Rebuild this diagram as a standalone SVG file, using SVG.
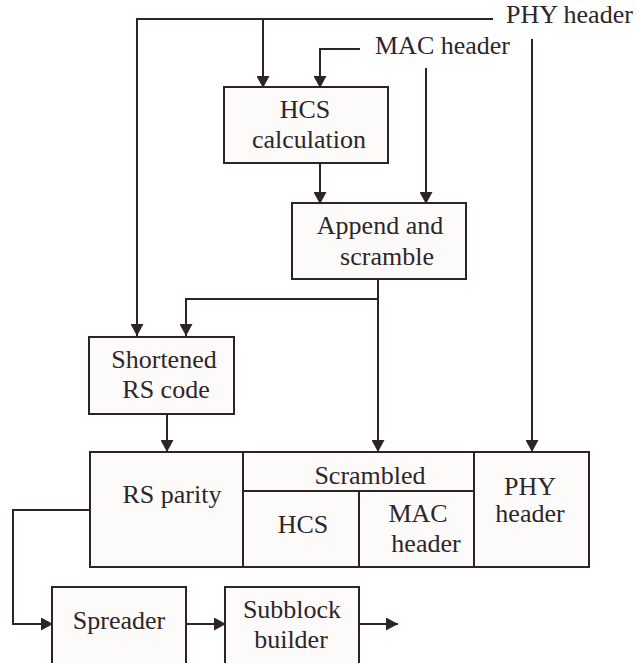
<svg xmlns="http://www.w3.org/2000/svg" width="637" height="663" viewBox="0 0 637 663">
<style>
.bx{fill:#fcfbfa;stroke:#2e2327;stroke-width:2}
.ln{fill:none;stroke:#2e2327;stroke-width:2}
.ar{marker-end:url(#ah)}
text{font-family:"Liberation Serif","Times New Roman",serif;font-size:26px;fill:#2e2529;text-anchor:middle}
.l{text-anchor:start}
</style>
<defs>
<marker id="ah" markerUnits="userSpaceOnUse" markerWidth="13" markerHeight="13" refX="12" refY="6.5" orient="auto">
<path d="M0,0 L12,6.5 L0,13 z" fill="#2e2327"/>
</marker>
</defs>
<rect width="637" height="663" fill="#ffffff"/>
<g id="connectors">
<path class="ln ar" d="M493,19 H137 V336"/>
<path class="ln ar" d="M263,19 V88"/>
<path class="ln ar" d="M360,49 H320 V88"/>
<path class="ln ar" d="M426,68 V204"/>
<path class="ln ar" d="M532,39 V452"/>
<path class="ln ar" d="M320,163 V204"/>
<path class="ln ar" d="M378,279 V452"/>
<path class="ln ar" d="M378,299 H186 V336"/>
<path class="ln ar" d="M167,414 V452"/>
<path class="ln ar" d="M90,510 H13 V624 H53"/>
<path class="ln ar" d="M186,624 H226"/>
<path class="ln ar" d="M359,624 H398"/>
</g>
<g id="phy-header-label"><text class="l" x="506" y="23">PHY header</text></g>
<g id="mac-header-label"><text class="l" x="375" y="54">MAC header</text></g>
<g id="hcs-calc">
<rect class="bx" x="224" y="87" width="164" height="76"/>
<text x="305" y="118">HCS</text>
<text x="309" y="148">calculation</text>
</g>
<g id="append">
<rect class="bx" x="292" y="203" width="174" height="76"/>
<text x="380" y="234">Append and</text>
<text x="387" y="265">scramble</text>
</g>
<g id="shortened">
<rect class="bx" x="89" y="337" width="145" height="77"/>
<text x="164" y="368">Shortened</text>
<text x="166" y="398">RS code</text>
</g>
<g id="frame">
<rect class="bx" x="90" y="452" width="499" height="115"/>
<path class="ln" d="M243,452 V567 M474,452 V567 M243,491 H474 M359,491 V567"/>
<text x="172" y="503">RS parity</text>
<text x="370" y="484">Scrambled</text>
<text x="303" y="533">HCS</text>
<text x="418" y="522">MAC</text>
<text x="426" y="552">header</text>
<text x="530" y="495">PHY</text>
<text x="530" y="522">header</text>
</g>
<g id="spreader">
<rect class="bx" x="52" y="587" width="134" height="90"/>
<text x="119" y="629">Spreader</text>
</g>
<g id="subblock">
<rect class="bx" x="225" y="587" width="134" height="90"/>
<text x="292" y="618">Subblock</text>
<text x="291" y="648">builder</text>
</g>
</svg>
